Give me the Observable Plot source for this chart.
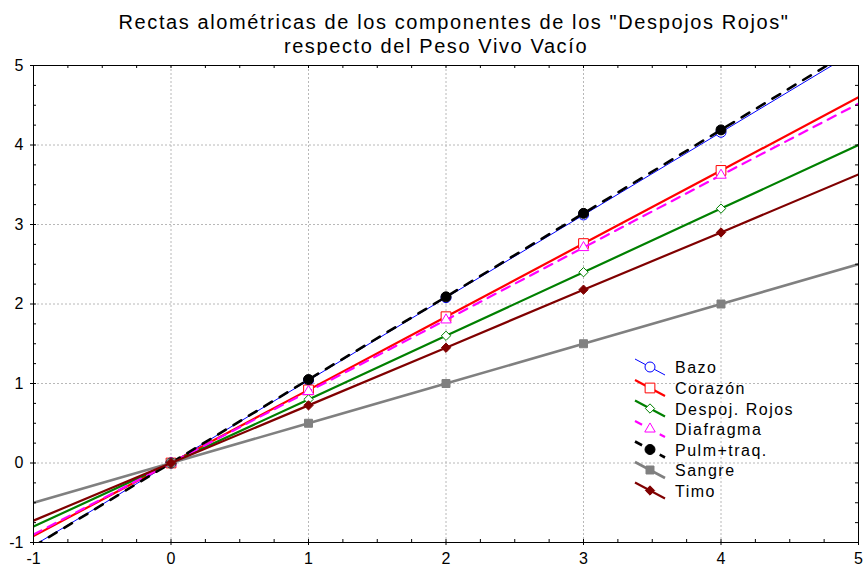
<!DOCTYPE html>
<html>
<head>
<meta charset="utf-8">
<script src="https://cdn.jsdelivr.net/npm/d3@7"></script>
<script src="https://cdn.jsdelivr.net/npm/@observablehq/plot@0.6"></script>
<style>
  html, body { margin: 0; padding: 0; background: white; }
  #wrap { position: relative; width: 867px; height: 570px; overflow: hidden; font-family: "Liberation Sans", Arial, sans-serif; }
  .t { position: absolute; left: 0; text-align: center; font-size: 20px; line-height: 24px; letter-spacing: 1.6px; color: #000; white-space: nowrap; }
  #chart { position: absolute; left: 0; top: 55px; }
  #legend { position: absolute; left: 0; top: 0; pointer-events: none; }
</style>
</head>
<body>
<div id="wrap">
  <div class="t" id="t1" style="top:10px;width:908px;"></div>
  <div class="t" id="t2" style="top:34px;width:872px;"></div>
  <div id="chart"></div>
  <svg id="legend" width="867" height="570"></svg>
</div>
<script>
// ---- Data ----
const titleLine1 = 'Rectas alométricas de los componentes de los "Despojos Rojos"';
const titleLine2 = 'respecto del Peso Vivo Vacío';
const xValues = [-1, 0, 1, 2, 3, 4, 5];
const seriesNames = ["Bazo", "Corazón", "Despoj. Rojos", "Diafragma", "Pulm+traq.", "Sangre", "Timo"];
const bazo       = [-1.04, 0, 1.04, 2.08, 3.12, 4.16, 5.20];
const corazon    = [-0.92, 0, 0.92, 1.84, 2.76, 3.68, 4.60];
const despojos   = [-0.80, 0, 0.80, 1.60, 2.40, 3.20, 4.00];
const diafragma  = [-0.90, 0, 0.90, 1.80, 2.71, 3.62, 4.52];
const pulmtraq   = [-1.05, 0, 1.05, 2.09, 3.14, 4.19, 5.24];
const sangre     = [-0.50, 0, 0.50, 1.00, 1.50, 2.00, 2.50];
const timo       = [-0.725, 0, 0.725, 1.45, 2.18, 2.90, 3.63];
const xTicks = [-1, 0, 1, 2, 3, 4, 5];
const yTicks = [-1, 0, 1, 2, 3, 4, 5];
const gridValues = [0, 1, 2, 3, 4];
const minorTicks = d3.range(-1, 5.001, 0.25);

// ---- Styles ----
const styles = [
  {values: bazo,      stroke: "#0000ff", sw: 1,   dash: null,  symbol: "circle",   r: 5,   fill: "white",   mstroke: "#0000ff"},
  {values: corazon,   stroke: "#ff0000", sw: 2.2, dash: null,  symbol: "square2",  r: 6.2, fill: "white",   mstroke: "#ff0000"},
  {values: despojos,  stroke: "#008000", sw: 2.2, dash: null,  symbol: "diamond2", r: 4.2, fill: "white",   mstroke: "#008000"},
  {values: diafragma, stroke: "#ff00ff", sw: 2.2, dash: "9,7", symbol: "triangle2",r: 5,   fill: "white",   mstroke: "#ff00ff"},
  {values: pulmtraq,  stroke: "#000000", sw: 2.6, dash: "9,9", symbol: "circle",   r: 5,   fill: "#000000", mstroke: "#000000"},
  {values: sangre,    stroke: "#808080", sw: 2.6, dash: null,  symbol: "square",   r: 4.5, fill: "#808080", mstroke: "#808080"},
  {values: timo,      stroke: "#800000", sw: 2.2, dash: null,  symbol: "diamond2", r: 4.2, fill: "#800000", mstroke: "#800000"}
];

document.getElementById("t1").textContent = titleLine1;
document.getElementById("t2").textContent = titleLine2;

const W = 867, H = 515, mT = 10, mB = 28, mL = 33, mR = 9;
const plotH = H - mT - mB, plotW = W - mL - mR;

const marks = [
  Plot.gridX(gridValues, {stroke: "#b8b8b8", strokeOpacity: 1, strokeDasharray: "2,2"}),
  Plot.gridY(gridValues, {stroke: "#b8b8b8", strokeOpacity: 1, strokeDasharray: "2,2"}),
];
styles.forEach(s => {
  marks.push(Plot.line(s.values, {
    x: (d, i) => xValues[i], y: d => d,
    stroke: s.stroke, strokeWidth: s.sw, strokeDasharray: s.dash, clip: true
  }));
  marks.push(Plot.dot(s.values, {
    x: (d, i) => xValues[i], y: d => d,
    filter: (d, i) => xValues[i] >= 0 && xValues[i] <= 4,
    symbol: s.symbol, r: s.r, fill: s.fill, stroke: s.mstroke, strokeWidth: 1
  }));
});
marks.push(
  Plot.tickX(minorTicks, {x: d => d, insetTop: plotH - 3, stroke: "black"}),
  Plot.tickX(minorTicks, {x: d => d, insetBottom: plotH - 3, stroke: "black"}),
  Plot.tickY(minorTicks, {y: d => d, insetLeft: plotW - 3, stroke: "black"}),
  Plot.tickY(minorTicks, {y: d => d, insetRight: plotW - 3, stroke: "black"}),
  Plot.frame({stroke: "black", strokeWidth: 1}),
  Plot.axisX({ticks: xTicks, tickSize: 3, tickPadding: 7, label: null, tickFormat: d => String(d)}),
  Plot.axisY({ticks: yTicks, tickSize: 3, tickPadding: 7, label: null, tickFormat: d => String(d)})
);

const chart = Plot.plot({
  width: W, height: H,
  marginTop: mT, marginBottom: mB, marginLeft: mL, marginRight: mR,
  x: {domain: [-1, 5]},
  y: {domain: [-1, 5]},
  style: {fontFamily: "'Liberation Sans', Arial, sans-serif", fontSize: "16px", color: "black", background: "white"},
  marks
});
document.getElementById("chart").appendChild(chart);

// ---- Legend ----
const leg = d3.select("#legend");
const rowY = [367, 388, 408.5, 429, 449.5, 470, 490.5];
const symMap = {circle: d3.symbolCircle, square: d3.symbolSquare, square2: d3.symbolSquare2, diamond2: d3.symbolDiamond2, triangle2: d3.symbolTriangle2};
styles.forEach((s, i) => {
  const y = rowY[i];
  const g = leg.append("g");
  g.append("line").attr("x1", 635).attr("y1", y - 8).attr("x2", 665).attr("y2", y + 8)
    .attr("stroke", s.stroke).attr("stroke-width", s.sw)
    .attr("stroke-dasharray", s.dash ? "8,6" : null);
  const sym = symMap[s.symbol] || d3.symbolCircle;
  g.append("path").attr("d", d3.symbol(sym, Math.PI * s.r * s.r)())
    .attr("transform", `translate(650,${y})`)
    .attr("fill", s.fill).attr("stroke", s.mstroke).attr("stroke-width", 1);
  g.append("text").attr("x", 675).attr("y", y + 6)
    .attr("font-family", "'Liberation Sans', Arial, sans-serif").attr("font-size", 16)
    .attr("letter-spacing", "1.5px").attr("fill", "black")
    .text(seriesNames[i]);
});
</script>
</body>
</html>
